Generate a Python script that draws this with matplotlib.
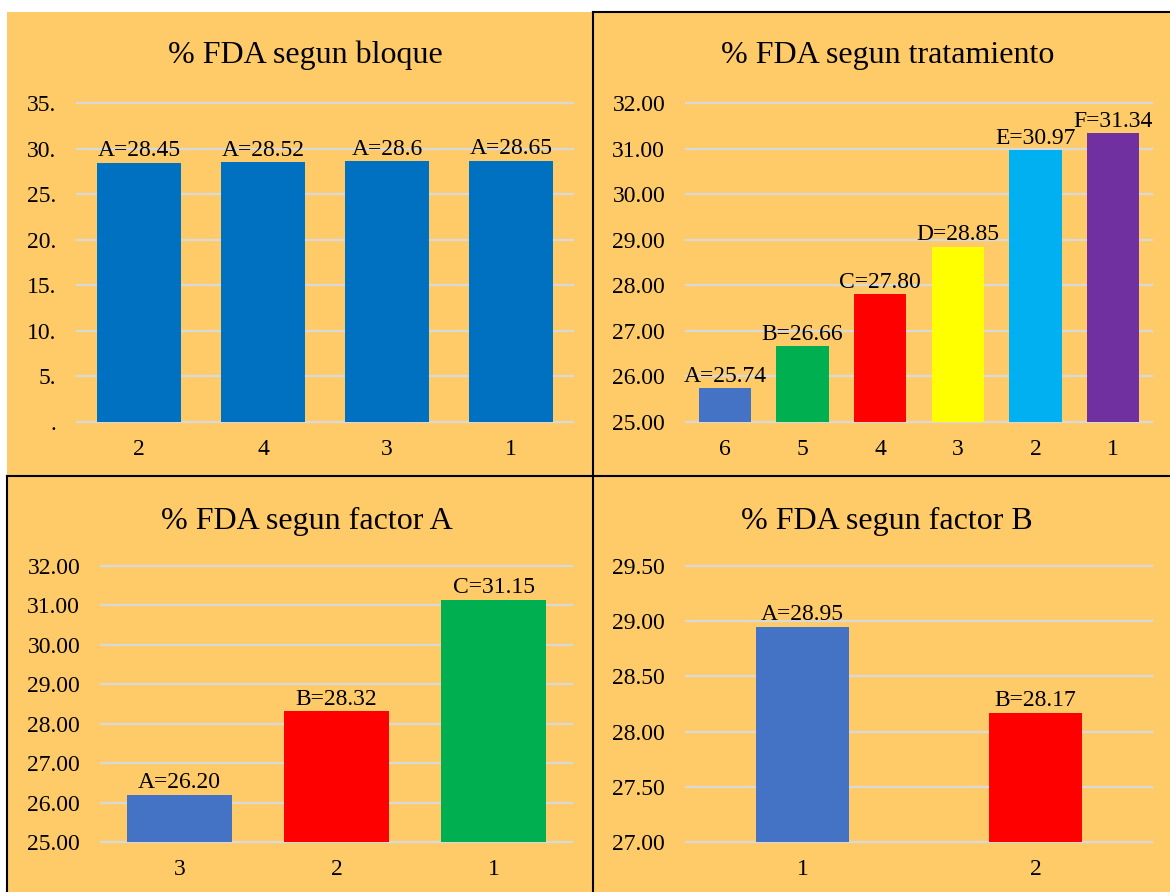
import matplotlib
matplotlib.use("Agg")
import matplotlib.pyplot as plt
from matplotlib.patches import Rectangle
from matplotlib.lines import Line2D

# ---- data ----
bloque_cats = ["2", "4", "3", "1"]
bloque_vals = [28.45, 28.52, 28.60, 28.65]
bloque_labels = ["A=28.45", "A=28.52", "A=28.6", "A=28.65"]
bloque_ticks = [0, 5, 10, 15, 20, 25, 30, 35]
bloque_ticklabels = [".", "5.", "10.", "15.", "20.", "25.", "30.", "35."]

trat_cats = ["6", "5", "4", "3", "2", "1"]
trat_vals = [25.74, 26.66, 27.80, 28.85, 30.97, 31.34]
trat_labels = ["A=25.74", "B=26.66", "C=27.80", "D=28.85", "E=30.97", "F=31.34"]
trat_ticks = [25, 26, 27, 28, 29, 30, 31, 32]

facA_cats = ["3", "2", "1"]
facA_vals = [26.20, 28.32, 31.15]
facA_labels = ["A=26.20", "B=28.32", "C=31.15"]
facA_ticks = [25, 26, 27, 28, 29, 30, 31, 32]

facB_cats = ["1", "2"]
facB_vals = [28.95, 28.17]
facB_labels = ["A=28.95", "B=28.17"]
facB_ticks = [27.0, 27.5, 28.0, 28.5, 29.0, 29.5]

# ---- styling ----
W, H = 1170, 892
BG = "#FFCB69"
GRID = "#D9D9D9"
FONT = "Liberation Serif"
plt.rcParams["font.family"] = [FONT, "DejaVu Serif"]
TICK_FS = 17
LABEL_FS = 17
TITLE_FS = 23

fig = plt.figure(figsize=(W / 100, H / 100), dpi=100)
fig.patch.set_facecolor("white")

def fx(x):
    return x / W

def fy(y):
    return 1 - y / H

# panel backgrounds
for (x0, y0, x1, y1) in [(7, 12, 593, 476), (593, 12, 1170, 476),
                         (7, 476, 593, 892), (593, 476, 1170, 892)]:
    fig.patches.append(Rectangle((fx(x0), fy(y1)), fx(x1) - fx(x0), fy(y0) - fy(y1),
                                 transform=fig.transFigure, facecolor=BG,
                                 edgecolor="none", zorder=-2))

# black borders
for (xa, ya, xb, yb) in [(593, 12, 593, 892), (7, 476, 1170, 476),
                         (593, 12, 1170, 12), (7, 476, 7, 892)]:
    fig.lines.append(Line2D([fx(xa), fx(xb)], [fy(ya), fy(yb)],
                            transform=fig.transFigure, color="black",
                            linewidth=1.5, zorder=5))


def make_panel(box, title, title_xy, cats, vals, labels, colors, ticks, ticklabels,
               ylim, width):
    left, top, right, bottom = box
    ax = fig.add_axes([fx(left), fy(bottom), fx(right) - fx(left), fy(top) - fy(bottom)])
    ax.set_facecolor("none")
    x = list(range(len(cats)))
    ax.bar(x, [v - ylim[0] for v in vals], bottom=ylim[0], width=width,
           color=colors, zorder=3)
    for xi, v, lab in zip(x, vals, labels):
        ax.annotate(lab, (xi, v), xytext=(0, 1), textcoords="offset points",
                    ha="center", va="bottom", fontsize=LABEL_FS, family=FONT,
                    color="black", zorder=4, annotation_clip=False)
    ax.set_xlim(-0.5, len(cats) - 0.5)
    ax.set_ylim(*ylim)
    ax.set_yticks(ticks)
    ax.set_yticklabels(ticklabels, fontsize=TICK_FS, family=FONT)
    ax.set_xticks(x)
    ax.set_xticklabels(cats, fontsize=TICK_FS, family=FONT)
    ax.tick_params(axis="both", length=0)
    ax.tick_params(axis="y", pad=15)
    ax.tick_params(axis="x", pad=12)
    for s in ax.spines.values():
        s.set_visible(False)
    for t in ticks:
        ax.axhline(t, color=GRID, linewidth=1.6, zorder=1, clip_on=False)
    fig.text(fx(title_xy[0]), fy(title_xy[1]), title, ha="center", va="center",
             fontsize=TITLE_FS, family=FONT, color="black")
    return ax


make_panel((77, 103, 573, 422), "% FDA segun bloque", (305, 55),
           bloque_cats, bloque_vals, bloque_labels, ["#0070C0"] * 4,
           bloque_ticks, bloque_ticklabels, (0, 35), 0.67)

make_panel((686, 103, 1152, 422), "% FDA segun tratamiento", (888, 55),
           trat_cats, trat_vals, trat_labels,
           ["#4472C4", "#00B050", "#FF0000", "#FFFF00", "#00B0F0", "#7030A0"],
           trat_ticks, [f"{t:.2f}" for t in trat_ticks], (25, 32), 0.67)

make_panel((101, 566, 572, 842), "% FDA segun factor A", (307, 521),
           facA_cats, facA_vals, facA_labels,
           ["#4472C4", "#FF0000", "#00B050"],
           facA_ticks, [f"{t:.2f}" for t in facA_ticks], (25, 32), 0.67)

make_panel((686, 566, 1152, 842), "% FDA segun factor B", (887, 521),
           facB_cats, facB_vals, facB_labels,
           ["#4472C4", "#FF0000"],
           facB_ticks, [f"{t:.2f}" for t in facB_ticks], (27, 29.5), 0.40)

fig.savefig("out.png", dpi=100, facecolor=fig.get_facecolor())
